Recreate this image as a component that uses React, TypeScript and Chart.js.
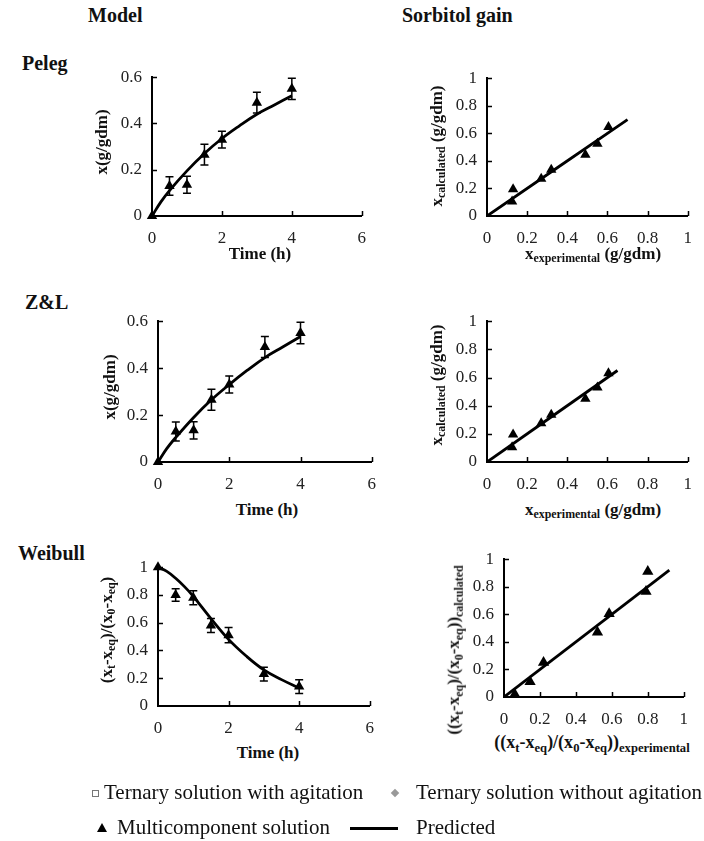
import React, { useEffect, useRef } from "react";
import { Chart, registerables } from "chart.js";
Chart.register(...registerables);

// ---------- data ----------
const timeObs = [0, 0.5, 1, 1.5, 2, 3, 4];
const gainObs = [0, 0.13, 0.135, 0.265, 0.33, 0.49, 0.55];
const gainErr = [0, 0.04, 0.037, 0.045, 0.036, 0.045, 0.046];
const weibullObs = [1, 0.8, 0.78, 0.58, 0.51, 0.23, 0.14];
const weibullErr = [0, 0.045, 0.05, 0.05, 0.055, 0.05, 0.05];

const curveTime = [0, 0.25, 0.5, 1, 1.5, 2, 2.5, 3, 3.5, 4];
const pelegCurve = [0, 0.06, 0.11, 0.195, 0.27, 0.335, 0.39, 0.44, 0.48, 0.52];
const zlCurve = [0, 0.058, 0.105, 0.19, 0.265, 0.33, 0.39, 0.445, 0.49, 0.535];
const weibullCurveTime = [0, 0.25, 0.5, 0.75, 1, 1.5, 2, 2.5, 3, 3.5, 4];
const weibullCurve = [1, 0.97, 0.92, 0.86, 0.79, 0.63, 0.48, 0.36, 0.26, 0.19, 0.13];

const pelegExp = [0.125, 0.13, 0.27, 0.32, 0.49, 0.55, 0.605];
const pelegCalc = [0.105, 0.195, 0.27, 0.335, 0.445, 0.525, 0.645];
const pelegLine = [0, 0.7];
const zlExp = [0.125, 0.13, 0.27, 0.32, 0.49, 0.55, 0.605];
const zlCalc = [0.105, 0.195, 0.275, 0.335, 0.45, 0.53, 0.63];
const zlLine = [0, 0.65];
const weibullExp = [0.06, 0.145, 0.22, 0.52, 0.585, 0.79, 0.8];
const weibullCalc = [0.02, 0.11, 0.25, 0.47, 0.605, 0.765, 0.91];
const weibullLine = [0, 0.92];

const timeTicks = [0, 2, 4, 6];
const gainTicks = [0, 0.2, 0.4, 0.6];
const unitTicks = [0, 0.2, 0.4, 0.6, 0.8, 1];

// ---------- helpers ----------
const FONT = "'Liberation Serif', 'Times New Roman', serif";
const pts = (xs: number[], ys: number[]) => xs.map((x, i) => ({ x, y: ys[i] }));

const errorBarPlugin = {
  id: "errbars",
  afterDatasetsDraw(chart: any) {
    const ctx = chart.ctx;
    const xs = chart.scales.x;
    const ys = chart.scales.y;
    chart.data.datasets.forEach((ds: any) => {
      const errs = ds.errs;
      if (!errs) return;
      ctx.save();
      ctx.strokeStyle = "#000";
      ctx.lineWidth = 1.5;
      ds.data.forEach((p: any, j: number) => {
        const e = errs[j];
        if (!e) return;
        const px = xs.getPixelForValue(p.x);
        const y1 = ys.getPixelForValue(p.y - e);
        const y2 = ys.getPixelForValue(p.y + e);
        ctx.beginPath();
        ctx.moveTo(px, y1);
        ctx.lineTo(px, y2);
        ctx.moveTo(px - 4, y1);
        ctx.lineTo(px + 4, y1);
        ctx.moveTo(px - 4, y2);
        ctx.lineTo(px + 4, y2);
        ctx.stroke();
      });
      ctx.restore();
    });
  },
};

const innerTickPlugin = {
  id: "innerticks",
  beforeDatasetsDraw(chart: any) {
    const ctx = chart.ctx;
    const xs = chart.scales.x;
    const ys = chart.scales.y;
    const a = chart.chartArea;
    ctx.save();
    ctx.strokeStyle = "#000";
    ctx.lineWidth = 1.5;
    ctx.beginPath();
    xs.ticks.forEach((t: any) => {
      if (t.value === xs.min) return;
      const px = Math.round(xs.getPixelForValue(t.value)) + 0.5;
      ctx.moveTo(px, a.bottom);
      ctx.lineTo(px, a.bottom - 5);
    });
    ys.ticks.forEach((t: any) => {
      if (t.value === ys.min) return;
      const py = Math.round(ys.getPixelForValue(t.value)) + 0.5;
      ctx.moveTo(a.left, py);
      ctx.lineTo(a.left + 5, py);
    });
    ctx.stroke();
    ctx.restore();
  },
};

type Box = { L: number; T: number; R: number; B: number };
type PanelProps = {
  box: Box;
  padR: number;
  xMax: number;
  yMax: number;
  xTicks: number[];
  yTicks: number[];
  datasets: any[];
};

const PAD_L = 50;
const PAD_T = 12;
const PAD_B = 34;

function Panel({ box, padR, xMax, yMax, xTicks, yTicks, datasets }: PanelProps) {
  const ref = useRef<HTMLCanvasElement>(null);
  const w = box.R - box.L + PAD_L + padR;
  const h = box.B - box.T + PAD_T + PAD_B;
  useEffect(() => {
    if (!ref.current) return;
    const tickFont = { family: FONT, size: 17 };
    const chart = new Chart(ref.current, {
      type: "scatter",
      data: { datasets },
      options: {
        animation: false,
        responsive: false,
        maintainAspectRatio: false,
        devicePixelRatio: 1,
        layout: { padding: { left: 0, top: PAD_T, right: padR, bottom: 0 } },
        plugins: { legend: { display: false }, tooltip: { enabled: false } },
        scales: {
          x: {
            type: "linear",
            min: 0,
            max: xMax,
            grid: { display: false, drawTicks: false, tickLength: 0 },
            border: { display: true, color: "#000", width: 2 },
            ticks: {
              font: tickFont,
              color: "#222",
              padding: 12,
              maxRotation: 0,
              autoSkip: false,
              callback: (v: any) => String(v),
            },
            afterBuildTicks: (s: any) => {
              s.ticks = xTicks.map((v) => ({ value: v }));
            },
            afterFit: (s: any) => {
              s.height = PAD_B;
            },
          },
          y: {
            type: "linear",
            min: 0,
            max: yMax,
            grid: { display: false, drawTicks: false, tickLength: 0 },
            border: { display: true, color: "#000", width: 2 },
            ticks: {
              font: tickFont,
              color: "#222",
              padding: 10,
              autoSkip: false,
              callback: (v: any) => String(v),
            },
            afterBuildTicks: (s: any) => {
              s.ticks = yTicks.map((v) => ({ value: v }));
            },
            afterFit: (s: any) => {
              s.width = PAD_L;
            },
          },
        },
      } as any,
      plugins: [innerTickPlugin, errorBarPlugin],
    });
    return () => chart.destroy();
  }, []);
  return (
    <canvas
      ref={ref}
      width={w}
      height={h}
      style={{
        position: "absolute",
        left: box.L - PAD_L,
        top: box.T - PAD_T,
        width: w,
        height: h,
      }}
    />
  );
}

const curveDs = (xs: number[], ys: number[]) => ({
  data: pts(xs, ys),
  showLine: true,
  pointRadius: 0,
  borderColor: "#000",
  borderWidth: 2.8,
  tension: 0.4,
});
const triDs = (xs: number[], ys: number[], errs?: number[]) => ({
  data: pts(xs, ys),
  showLine: false,
  pointStyle: "triangle",
  pointRadius: 6,
  backgroundColor: "#000",
  borderColor: "#000",
  borderWidth: 0,
  clip: false,
  errs,
});

// ---------- text overlays ----------
function Txt({ x, y, size, bold, rotate, anchor, children }: any) {
  const tr =
    (anchor === "left" ? "translate(0,-50%)" : "translate(-50%,-50%)") +
    (rotate ? " rotate(-90deg)" : "");
  return (
    <div
      style={{
        position: "absolute",
        left: x,
        top: y,
        transform: tr,
        whiteSpace: "nowrap",
        fontFamily: FONT,
        fontSize: size,
        fontWeight: bold ? "bold" : "normal",
        lineHeight: 1.2,
        color: "#111",
      }}
    >
      {children}
    </div>
  );
}
const Sub = ({ children }: any) => (
  <span style={{ fontSize: "0.7em", verticalAlign: "-0.3em", lineHeight: 0 }}>{children}</span>
);

const P1: Box = { L: 152, T: 69, R: 364, B: 216 };
const P2: Box = { L: 487, T: 70, R: 699, B: 216 };
const P3: Box = { L: 158, T: 313, R: 374, B: 462 };
const P4: Box = { L: 487, T: 313, R: 699, B: 462 };
const P5: Box = { L: 158, T: 559, R: 372, B: 706 };
const P6: Box = { L: 504, T: 551, R: 695, B: 697 };

export default function App() {
  const ratio = (
    <>
      (x<Sub>t</Sub>-x<Sub>eq</Sub>)/(x<Sub>0</Sub>-x<Sub>eq</Sub>)
    </>
  );
  return (
    <div
      style={{
        position: "absolute",
        left: 0,
        top: 0,
        width: 704,
        height: 841,
        overflow: "hidden",
        background: "#fff",
      }}
    >
      <Panel box={P1} padR={14} xMax={6} yMax={0.6} xTicks={timeTicks} yTicks={gainTicks}
        datasets={[curveDs(curveTime, pelegCurve), triDs(timeObs, gainObs, gainErr)]} />
      <Panel box={P2} padR={5} xMax={1} yMax={1} xTicks={unitTicks} yTicks={unitTicks}
        datasets={[curveDs(pelegLine, pelegLine), triDs(pelegExp, pelegCalc)]} />
      <Panel box={P3} padR={14} xMax={6} yMax={0.6} xTicks={timeTicks} yTicks={gainTicks}
        datasets={[curveDs(curveTime, zlCurve), triDs(timeObs, gainObs, gainErr)]} />
      <Panel box={P4} padR={5} xMax={1} yMax={1} xTicks={unitTicks} yTicks={unitTicks}
        datasets={[curveDs(zlLine, zlLine), triDs(zlExp, zlCalc)]} />
      <Panel box={P5} padR={14} xMax={6} yMax={1} xTicks={timeTicks} yTicks={unitTicks}
        datasets={[curveDs(weibullCurveTime, weibullCurve), triDs(timeObs, weibullObs, weibullErr)]} />
      <Panel box={P6} padR={5} xMax={1} yMax={1} xTicks={unitTicks} yTicks={unitTicks}
        datasets={[curveDs(weibullLine, weibullLine), { ...triDs(weibullExp, weibullCalc), pointRadius: 6.5 }]} />

      {/* headers */}
      <Txt x={88} y={15} size={20} bold anchor="left">Model</Txt>
      <Txt x={402} y={15} size={20} bold anchor="left">Sorbitol gain</Txt>
      <Txt x={22} y={63} size={20} bold anchor="left">Peleg</Txt>
      <Txt x={25} y={302} size={20} bold anchor="left">Z&amp;L</Txt>
      <Txt x={18} y={553} size={20} bold anchor="left">Weibull</Txt>

      {/* axis titles */}
      <Txt x={102} y={142} size={17} bold rotate>x(g/gdm)</Txt>
      <Txt x={260} y={254} size={17} bold>Time (h)</Txt>
      <Txt x={437} y={146} size={17} bold rotate>x<Sub>calculated</Sub> (g/gdm)</Txt>
      <Txt x={593} y={254} size={17} bold>x<Sub>experimental</Sub> (g/gdm)</Txt>

      <Txt x={110} y={387} size={17} bold rotate>x(g/gdm)</Txt>
      <Txt x={267} y={510} size={17} bold>Time (h)</Txt>
      <Txt x={437} y={385} size={17} bold rotate>x<Sub>calculated</Sub> (g/gdm)</Txt>
      <Txt x={593} y={510} size={17} bold>x<Sub>experimental</Sub> (g/gdm)</Txt>

      <Txt x={107} y={630} size={17} bold rotate>{ratio}</Txt>
      <Txt x={268} y={753} size={17} bold>Time (h)</Txt>
      <Txt x={454} y={650} size={17} bold rotate>({ratio})<Sub>calculated</Sub></Txt>
      <Txt x={592} y={743} size={18} bold>({ratio})<Sub>experimental</Sub></Txt>

      {/* legend */}
      <div style={{ position: "absolute", left: 92, top: 790, width: 7, height: 7, border: "1px solid #777", boxSizing: "border-box" }} />
      <Txt x={104} y={793} size={21} anchor="left">Ternary solution with agitation</Txt>
      <div style={{ position: "absolute", left: 392, top: 790, width: 6, height: 6, background: "#999", transform: "rotate(45deg)" }} />
      <Txt x={416} y={793} size={21} anchor="left">Ternary solution without agitation</Txt>
      <div style={{ position: "absolute", left: 97, top: 823, width: 0, height: 0, borderLeft: "5px solid transparent", borderRight: "5px solid transparent", borderBottom: "9px solid #000" }} />
      <Txt x={117} y={828} size={21} anchor="left">Multicomponent solution</Txt>
      <div style={{ position: "absolute", left: 350, top: 827, width: 48, height: 2.5, background: "#000" }} />
      <Txt x={416} y={828} size={21} anchor="left">Predicted</Txt>
    </div>
  );
}
